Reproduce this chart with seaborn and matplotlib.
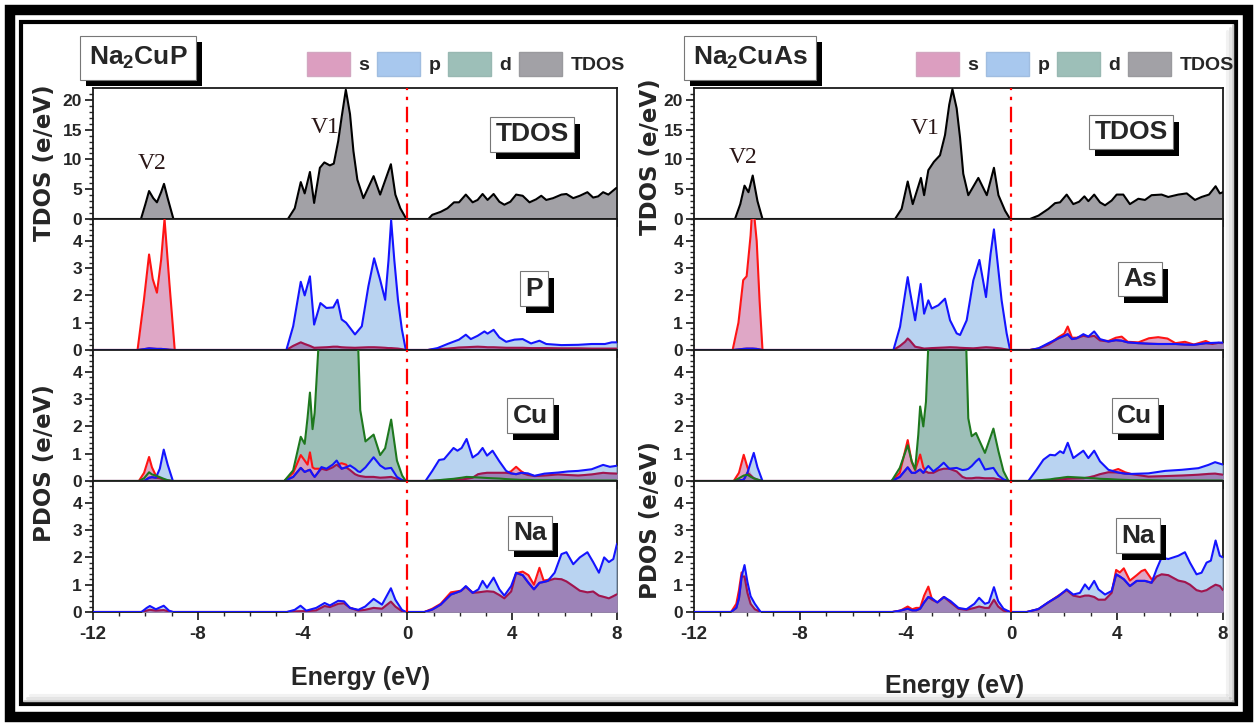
import numpy as np
import pandas as pd
import matplotlib
matplotlib.use('agg')
import seaborn as sns
import matplotlib.pyplot as plt
from matplotlib.patches import Patch, Rectangle
from matplotlib.lines import Line2D

# ---------------- data (energy in eV, DOS in states/eV) ----------------
# Na2CuP total DOS: (E, TDOS)
CUP_TDOS = [(-12, 0), (-10.17, 0), (-10.0, 2.5), (-9.86, 4.7), (-9.7, 3.5), (-9.56, 2.8),
            (-9.4, 4.5), (-9.29, 5.9), (-9.15, 3.5), (-8.93, 0), (-4.56, 0), (-4.3, 1.8),
            (-4.07, 6.2), (-3.92, 4.3), (-3.72, 7.9), (-3.56, 2.7), (-3.34, 8.6), (-3.17, 9.5),
            (-2.96, 9.0), (-2.81, 9.3), (-2.64, 13.1), (-2.51, 17.1), (-2.35, 21.7), (-2.19, 17.6),
            (-2.06, 11.4), (-1.91, 6.6), (-1.68, 3.5), (-1.29, 7.2), (-1.04, 4.1), (-0.63, 9.2),
            (-0.46, 4.1), (-0.27, 1.8), (-0.04, 0), (0.8, 0), (0.95, 0.7), (1.27, 1.2), (1.53, 1.8),
            (1.78, 2.8), (1.97, 2.8), (2.23, 4.1), (2.49, 2.8), (2.68, 3.2), (2.87, 4.2), (3.06, 3.2),
            (3.29, 4.2), (3.51, 2.9), (3.70, 2.4), (3.93, 2.9), (4.15, 4.1), (4.40, 3.9), (4.66, 2.8),
            (4.91, 3.3), (5.11, 3.9), (5.30, 3.2), (5.56, 3.5), (5.88, 4.1), (6.07, 4.2), (6.33, 3.5),
            (6.58, 3.9), (6.87, 4.5), (7.09, 3.6), (7.28, 3.8), (7.47, 4.5), (7.67, 4.1), (7.97, 5.2),
            (8.0, 5.2)]

# Na2CuP, P site: (E, s, p)
CUP_P = [(-12, 0, 0), (-10.3, 0, 0), (-10.06, 1.8, 0.03), (-9.86, 3.5, 0.06), (-9.72, 2.6, 0.05),
         (-9.56, 2.1, 0.04), (-9.4, 3.3, 0.04), (-9.27, 4.8, 0.03), (-9.08, 2.4, 0.01), (-8.88, 0, 0),
         (-4.62, 0, 0), (-4.36, 0.15, 0.87), (-4.07, 0.28, 2.5), (-3.92, 0.22, 2.0), (-3.72, 0.15, 2.7),
         (-3.56, 0.08, 0.93), (-3.32, 0.09, 1.72), (-3.09, 0.1, 1.54), (-2.83, 0.12, 1.56),
         (-2.67, 0.12, 1.84), (-2.51, 0.1, 1.12), (-2.34, 0.09, 1.0), (-2.0, 0.08, 0.57),
         (-1.74, 0.09, 0.87), (-1.49, 0.1, 2.33), (-1.27, 0.1, 3.36), (-1.04, 0.09, 2.57),
         (-0.85, 0.08, 1.84), (-0.72, 0.07, 3.3), (-0.62, 0.07, 4.75), (-0.50, 0.06, 3.3),
         (-0.36, 0.05, 1.84), (-0.21, 0.03, 0.75), (-0.06, 0, 0), (0.78, 0, 0), (1.15, 0.03, 0.07),
         (1.53, 0.05, 0.22), (1.97, 0.09, 0.38), (2.23, 0.1, 0.56), (2.42, 0.11, 0.4), (2.68, 0.12, 0.52),
         (2.94, 0.11, 0.68), (3.06, 0.1, 0.6), (3.29, 0.1, 0.74), (3.51, 0.09, 0.46), (3.77, 0.08, 0.3),
         (4.09, 0.08, 0.38), (4.40, 0.08, 0.4), (4.72, 0.07, 0.24), (5.04, 0.07, 0.34), (5.30, 0.07, 0.22),
         (5.88, 0.06, 0.18), (6.52, 0.06, 0.19), (7.03, 0.05, 0.22), (7.54, 0.05, 0.22), (7.8, 0.05, 0.28),
         (8.0, 0.05, 0.28)]

# Na2CuP, Cu site: (E, s, p, d)
CUP_CU = [(-12, 0, 0, 0), (-10.25, 0, 0, 0), (-10.05, 0.3, 0.0, 0.1), (-9.86, 0.88, 0.12, 0.32),
          (-9.75, 0.5, 0.14, 0.24), (-9.6, 0.2, 0.12, 0.2), (-9.45, 0.1, 0.45, 0.14), (-9.3, 0.05, 1.15, 0.08),
          (-9.15, 0.02, 0.6, 0.03), (-8.95, 0, 0, 0), (-4.7, 0, 0, 0), (-4.36, 0.3, 0.15, 0.39),
          (-4.07, 0.95, 0.48, 1.62), (-3.92, 0.75, 0.33, 1.36), (-3.81, 0.6, 0.38, 2.33),
          (-3.72, 1.05, 0.41, 3.24), (-3.62, 0.5, 0.25, 1.9), (-3.54, 0.45, 0.15, 2.5),
          (-3.42, 0.45, 0.3, 4.5), (-3.28, 0.45, 0.51, 7.0), (-3.09, 0.4, 0.45, 9.0), (-2.85, 0.5, 0.6, 10.5),
          (-2.70, 0.6, 0.75, 11.5), (-2.51, 0.65, 0.45, 12.5), (-2.34, 0.6, 0.5, 13.0),
          (-2.19, 0.4, 0.57, 11.0), (-2.0, 0.25, 0.45, 8.0), (-1.88, 0.2, 0.35, 5.0), (-1.80, 0.18, 0.33, 2.6),
          (-1.6, 0.15, 0.5, 1.45), (-1.29, 0.15, 0.87, 1.7), (-1.04, 0.12, 0.57, 0.95),
          (-0.85, 0.13, 0.45, 1.2), (-0.62, 0.15, 0.48, 2.25), (-0.40, 0.08, 0.15, 0.75),
          (-0.2, 0.03, 0.03, 0.2), (-0.06, 0, 0, 0), (0.69, 0, 0, 0), (0.95, 0.01, 0.37, 0.01),
          (1.21, 0.02, 0.77, 0.03), (1.40, 0.03, 0.8, 0.05), (1.76, 0.05, 1.21, 0.08), (1.91, 0.05, 1.11, 0.1),
          (2.07, 0.06, 1.21, 0.12), (2.26, 0.08, 1.54, 0.15), (2.49, 0.12, 0.86, 0.14), (2.70, 0.25, 1.0, 0.13),
          (2.87, 0.28, 1.21, 0.12), (3.04, 0.3, 0.93, 0.11), (3.25, 0.3, 1.11, 0.1), (3.51, 0.3, 0.72, 0.09),
          (3.77, 0.3, 0.37, 0.07), (3.95, 0.35, 0.28, 0.06), (4.15, 0.52, 0.25, 0.05), (4.35, 0.35, 0.3, 0.04),
          (4.60, 0.22, 0.28, 0.04), (4.85, 0.18, 0.19, 0.03), (5.23, 0.2, 0.27, 0.03), (5.75, 0.24, 0.31, 0.03),
          (6.13, 0.22, 0.35, 0.02), (6.52, 0.2, 0.37, 0.02), (7.03, 0.24, 0.43, 0.02), (7.47, 0.3, 0.59, 0.02),
          (7.73, 0.28, 0.52, 0.02), (8.0, 0.27, 0.56, 0.02)]

# Na2CuP, Na site: (E, s, p)
CUP_NA = [(-12, 0, 0), (-10.15, 0, 0), (-9.95, 0.05, 0.15), (-9.83, 0.08, 0.22), (-9.6, 0.05, 0.1),
          (-9.3, 0.07, 0.23), (-9.1, 0.02, 0.05), (-8.95, 0, 0), (-4.6, 0, 0), (-4.3, 0.02, 0.08),
          (-4.08, 0.03, 0.23), (-3.86, 0.03, 0.05), (-3.48, 0.06, 0.15), (-3.16, 0.22, 0.33),
          (-2.96, 0.18, 0.24), (-2.64, 0.3, 0.41), (-2.42, 0.32, 0.39), (-2.19, 0.15, 0.15),
          (-1.87, 0.05, 0.08), (-1.61, 0.08, 0.2), (-1.29, 0.15, 0.48), (-0.97, 0.12, 0.27),
          (-0.63, 0.38, 0.87), (-0.46, 0.2, 0.45), (-0.21, 0.03, 0.08), (-0.06, 0, 0), (0.65, 0, 0),
          (0.95, 0.12, 0.09), (1.27, 0.3, 0.27), (1.66, 0.72, 0.64), (2.04, 0.78, 0.77), (2.23, 0.92, 0.95),
          (2.49, 0.72, 0.7), (2.71, 0.72, 0.83), (2.87, 0.74, 1.14), (3.04, 0.76, 0.89), (3.29, 0.74, 1.26),
          (3.51, 0.62, 0.83), (3.70, 0.5, 0.6), (3.96, 0.75, 0.95), (4.15, 1.42, 1.44), (4.40, 1.48, 1.35),
          (4.62, 1.35, 1.07), (4.83, 1.0, 0.83), (5.04, 1.62, 1.07), (5.2, 1.15, 1.1), (5.36, 1.18, 1.14),
          (5.62, 1.22, 1.44), (5.88, 1.2, 2.12), (6.07, 1.12, 2.19), (6.33, 0.95, 1.75), (6.58, 0.78, 2.0),
          (6.87, 0.72, 2.19), (7.09, 0.75, 1.83), (7.31, 0.6, 1.44), (7.51, 0.55, 2.0), (7.69, 0.5, 1.83),
          (7.86, 0.58, 1.94), (8.0, 0.65, 2.5)]

# Na2CuAs total DOS: (E, TDOS)
CUAS_TDOS = [(-12, 0), (-10.45, 0), (-10.25, 2.5), (-10.09, 5.6), (-9.94, 4.5), (-9.78, 7.3), (-9.6, 3.0),
             (-9.41, 0), (-4.40, 0), (-4.15, 1.7), (-3.92, 6.3), (-3.73, 2.5), (-3.42, 6.9), (-3.30, 4.0),
             (-3.14, 8.2), (-2.93, 9.6), (-2.70, 10.7), (-2.51, 14.1), (-2.35, 19.2), (-2.23, 21.8),
             (-2.07, 18.6), (-1.94, 13.6), (-1.82, 7.6), (-1.63, 4.0), (-1.25, 6.9), (-0.93, 4.0),
             (-0.66, 8.6), (-0.49, 4.0), (-0.24, 1.4), (-0.05, 0), (0.70, 0), (1.02, 0.56), (1.40, 1.7),
             (1.65, 2.66), (1.84, 2.8), (2.09, 4.1), (2.34, 2.5), (2.56, 2.9), (2.76, 3.8), (2.91, 3.0),
             (3.13, 4.1), (3.35, 2.8), (3.54, 2.3), (3.79, 3.1), (3.98, 4.1), (4.23, 4.1), (4.48, 2.5),
             (4.80, 3.4), (5.05, 3.2), (5.30, 4.0), (5.68, 4.1), (5.93, 3.7), (6.31, 4.1), (6.63, 4.3),
             (6.94, 3.2), (7.19, 3.7), (7.47, 4.1), (7.72, 5.5), (7.88, 4.3), (8.0, 4.5)]

# Na2CuAs, As site: (E, s, p)
CUAS_AS = [(-12, 0, 0), (-10.54, 0, 0), (-10.32, 1.0, 0.02), (-10.14, 2.56, 0.04), (-10.01, 2.7, 0.05),
           (-9.86, 4.2, 0.05), (-9.78, 5.5, 0.05), (-9.63, 4.0, 0.04), (-9.52, 1.8, 0.02), (-9.41, 0, 0),
           (-4.46, 0, 0), (-4.21, 0.15, 0.85), (-4.02, 0.3, 2.06), (-3.92, 0.42, 2.67), (-3.84, 0.35, 2.18),
           (-3.64, 0.12, 1.09), (-3.43, 0.08, 2.42), (-3.30, 0.05, 1.33), (-3.14, 0.06, 1.82),
           (-3.01, 0.07, 1.52), (-2.76, 0.08, 1.64), (-2.51, 0.09, 1.88), (-2.32, 0.1, 1.09),
           (-2.07, 0.09, 0.61), (-1.94, 0.08, 0.55), (-1.69, 0.07, 1.09), (-1.44, 0.06, 2.55),
           (-1.21, 0.08, 3.3), (-0.96, 0.1, 1.94), (-0.79, 0.09, 3.5), (-0.66, 0.08, 4.42),
           (-0.53, 0.07, 3.27), (-0.37, 0.05, 1.82), (-0.18, 0.02, 0.61), (-0.05, 0, 0), (0.70, 0, 0),
           (1.02, 0.05, 0.06), (1.40, 0.2, 0.25), (1.78, 0.47, 0.43), (2.0, 0.6, 0.52), (2.13, 0.86, 0.58),
           (2.29, 0.45, 0.4), (2.47, 0.45, 0.43), (2.72, 0.52, 0.58), (2.91, 0.48, 0.49), (3.13, 0.52, 0.68),
           (3.35, 0.35, 0.4), (3.67, 0.33, 0.31), (3.95, 0.45, 0.36), (4.17, 0.49, 0.34), (4.40, 0.3, 0.28),
           (4.80, 0.28, 0.25), (5.20, 0.43, 0.23), (5.55, 0.47, 0.22), (5.90, 0.42, 0.22), (6.20, 0.25, 0.22),
           (6.56, 0.3, 0.2), (6.90, 0.2, 0.19), (7.35, 0.33, 0.25), (7.60, 0.22, 0.26), (7.82, 0.26, 0.27),
           (8.0, 0.25, 0.27)]

# Na2CuAs, Cu site: (E, s, p, d)
CUAS_CU = [(-12, 0, 0, 0), (-10.5, 0, 0, 0), (-10.3, 0.3, 0.02, 0.1), (-10.12, 0.96, 0.05, 0.2),
           (-9.98, 0.5, 0.3, 0.23), (-9.85, 0.2, 0.7, 0.15), (-9.74, 0.1, 1.03, 0.1), (-9.6, 0.05, 0.5, 0.05),
           (-9.41, 0, 0, 0), (-4.53, 0, 0, 0), (-4.22, 0.3, 0.15, 0.48), (-3.92, 1.5, 0.5, 1.31),
           (-3.77, 0.7, 0.3, 0.73), (-3.64, 0.4, 0.3, 0.42), (-3.52, 0.75, 0.38, 1.7), (-3.45, 0.97, 0.42, 2.73),
           (-3.33, 0.5, 0.3, 2.0), (-3.23, 0.35, 0.45, 2.9), (-3.14, 0.3, 0.55, 5.0), (-2.95, 0.3, 0.35, 7.0),
           (-2.75, 0.4, 0.5, 9.0), (-2.56, 0.45, 0.67, 11.0), (-2.35, 0.45, 0.45, 12.5), (-2.07, 0.35, 0.48, 11.0),
           (-1.85, 0.15, 0.4, 7.5), (-1.71, 0.1, 0.42, 5.0), (-1.63, 0.1, 0.45, 2.3), (-1.50, 0.1, 0.55, 1.64),
           (-1.34, 0.12, 0.72, 1.76), (-1.22, 0.12, 0.82, 1.5), (-1.0, 0.1, 0.42, 1.03), (-0.68, 0.1, 0.48, 1.92),
           (-0.49, 0.06, 0.2, 1.09), (-0.30, 0.03, 0.06, 0.36), (-0.11, 0, 0, 0), (0.64, 0, 0, 0),
           (0.95, 0.01, 0.41, 0.02), (1.21, 0.02, 0.78, 0.04), (1.46, 0.03, 0.96, 0.06), (1.65, 0.04, 0.94, 0.09),
           (1.84, 0.06, 1.09, 0.11), (1.97, 0.07, 1.02, 0.13), (2.13, 0.08, 1.4, 0.15), (2.34, 0.09, 0.84, 0.14),
           (2.72, 0.1, 1.11, 0.12), (2.91, 0.13, 0.84, 0.11), (3.13, 0.18, 1.11, 0.1), (3.35, 0.25, 0.72, 0.08),
           (3.67, 0.32, 0.41, 0.07), (4.04, 0.44, 0.31, 0.05), (4.30, 0.32, 0.27, 0.04), (4.55, 0.25, 0.26, 0.03),
           (5.18, 0.16, 0.28, 0.03), (5.81, 0.18, 0.37, 0.02), (6.44, 0.2, 0.41, 0.02), (7.07, 0.23, 0.47, 0.02),
           (7.45, 0.26, 0.59, 0.02), (7.70, 0.27, 0.69, 0.02), (8.0, 0.23, 0.6, 0.02)]

# Na2CuAs, Na site: (E, s, p)
CUAS_NA = [(-12, 0, 0), (-10.6, 0, 0), (-10.4, 0.3, 0.15), (-10.3, 0.8, 0.5), (-10.2, 1.45, 1.3),
           (-10.09, 1.3, 1.72), (-9.98, 0.7, 1.1), (-9.86, 0.3, 0.58), (-9.7, 0.1, 0.3), (-9.48, 0, 0),
           (-4.5, 0, 0), (-4.2, 0.05, 0.05), (-3.92, 0.2, 0.12), (-3.75, 0.1, 0.06), (-3.6, 0.15, 0.06),
           (-3.45, 0.15, 0.12), (-3.3, 0.6, 0.35), (-3.14, 0.93, 0.55), (-3.0, 0.45, 0.5), (-2.8, 0.35, 0.35),
           (-2.55, 0.55, 0.55), (-2.3, 0.35, 0.4), (-2.0, 0.12, 0.15), (-1.7, 0.08, 0.1), (-1.4, 0.15, 0.3),
           (-1.22, 0.2, 0.52), (-1.0, 0.15, 0.3), (-0.85, 0.15, 0.35), (-0.66, 0.45, 0.91), (-0.5, 0.2, 0.4),
           (-0.3, 0.05, 0.12), (-0.05, 0, 0), (0.58, 0, 0), (1.02, 0.1, 0.11), (1.40, 0.35, 0.36),
           (1.78, 0.6, 0.58), (2.09, 0.8, 0.83), (2.34, 0.6, 0.64), (2.59, 0.55, 0.7), (2.78, 0.6, 1.01),
           (2.93, 0.6, 0.83), (3.13, 0.55, 1.14), (3.29, 0.45, 0.83), (3.54, 0.45, 0.64), (3.79, 0.7, 0.77),
           (3.96, 1.54, 1.38), (4.1, 1.45, 1.3), (4.25, 1.6, 1.2), (4.48, 1.15, 0.95), (4.74, 1.35, 1.14),
           (4.92, 1.5, 1.14), (5.05, 1.55, 1.14), (5.30, 1.2, 1.07), (5.49, 1.3, 1.57), (5.68, 1.38, 2.0),
           (5.93, 1.35, 1.94), (6.31, 1.15, 2.06), (6.56, 1.1, 2.19), (6.75, 1.0, 1.81), (7.00, 0.8, 1.38),
           (7.19, 0.75, 1.44), (7.38, 0.8, 1.81), (7.54, 0.9, 1.88), (7.72, 1.0, 2.62), (7.88, 0.95, 2.06),
           (8.0, 0.8, 2.0)]

COMPOUNDS = ["Na$_2$CuP", "Na$_2$CuAs"]
SITES = [["TDOS", "P", "Cu", "Na"], ["TDOS", "As", "Cu", "Na"]]
LEGEND = ['s', 'p', 'd', 'TDOS']

# ---------------- style ----------------
S_LINE, S_FILL = '#ff1414', '#dc9ec0'
P_LINE, P_FILL = '#1414ff', '#a8c8ee'
D_LINE, D_FILL = '#1e781e', '#9dbfb8'
T_FILL = '#a2a1a6'
MIX_FILL, MIX_LINE = '#9a78b0', '#a0144e'

sns.set_style('ticks')
plt.rcParams['font.family'] = ['DejaVu Sans Condensed', 'Liberation Sans', 'DejaVu Sans']
plt.rcParams['font.weight'] = 'bold'
plt.rcParams['axes.unicode_minus'] = False
plt.rcParams['mathtext.fontset'] = 'custom'
plt.rcParams['mathtext.rm'] = 'Liberation Sans:bold'
plt.rcParams['mathtext.it'] = 'Liberation Sans:bold'
plt.rcParams['mathtext.bf'] = 'Liberation Sans:bold'


def line(ax, df, col, color, z):
    sns.lineplot(data=df, x='E', y=col, ax=ax, color=color, lw=1.5,
                 estimator=None, sort=False, zorder=z)


def draw_tdos(ax, rows):
    df = pd.DataFrame(rows, columns=['E', 'v'])
    ax.fill_between(df.E, 0, df.v, color=T_FILL, lw=0, zorder=2)
    line(ax, df, 'v', 'black', 3)


def draw_pdos(ax, rows):
    cols = ['E', 's', 'p', 'd'] if len(rows[0]) == 4 else ['E', 's', 'p']
    df = pd.DataFrame(rows, columns=cols)
    if 'd' in df:
        ax.fill_between(df.E, 0, df.d, color=D_FILL, lw=0, zorder=2)
    ax.fill_between(df.E, 0, df.s, color=S_FILL, alpha=0.9, lw=0, zorder=3)
    line(ax, df, 's', S_LINE, 3.5)
    ax.fill_between(df.E, 0, df.p, color=P_FILL, alpha=0.8, lw=0, zorder=4)
    # s lying under p shows as purple
    df['mix'] = np.minimum(df.s, df.p)
    ax.fill_between(df.E, 0, df.mix, color=MIX_FILL, alpha=0.85, lw=0, zorder=5)
    line(ax, df, 'mix', MIX_LINE, 5.5)
    line(ax, df, 'p', P_LINE, 6)
    if 'd' in df:
        line(ax, df, 'd', D_LINE, 6.5)


def style_axis(ax, top, bottom):
    ax.set_xlim(-12, 8)
    if top:
        ax.set_ylim(0, 22)
        ax.set_yticks(np.arange(0, 21, 5))
        ax.set_yticks(np.arange(0, 22, 1), minor=True)
    else:
        ax.set_ylim(0, 4.8)
        ax.set_yticks(np.arange(0, 5, 1))
        ax.set_yticks(np.arange(0, 4.81, 0.2), minor=True)
    ax.set_xticks(np.arange(-12, 9, 4))
    ax.set_xticks(np.arange(-12, 9, 1), minor=True)
    ax.tick_params(which='major', direction='out', length=6, width=1.3, labelsize=12.5, pad=2)
    ax.tick_params(which='minor', direction='out', length=3, width=1)
    ax.tick_params(axis='x', labelsize=13.5, labelbottom=bottom, pad=4)
    ax.set_xlabel('')
    ax.set_ylabel('')
    for sp in ax.spines.values():
        sp.set_linewidth(1.3)
        sp.set_color('#1a1a1a')
    ax.axvline(0, color='red', lw=1.6, ls=(0, (7, 3, 1.5, 3)), zorder=8)


FIG = plt.figure(figsize=(12.57, 7.24), dpi=100)
W, H = 1257.0, 724.0
boxes = []  # (text, dx, dy) that get a black drop shadow


def boxed(x, y, s, size, transform, dx=6, dy=-7, pad=0.2):
    t = FIG.text(x, y, s, ha='center', va='center', fontsize=size, zorder=11, transform=transform,
                 bbox=dict(boxstyle=f'square,pad={pad}', fc='white', ec='#777777', lw=0.8))
    boxes.append((t, dx, dy))


panels = [(93, 617), (694, 1223)]
data = [[CUP_TDOS, CUP_P, CUP_CU, CUP_NA], [CUAS_TDOS, CUAS_AS, CUAS_CU, CUAS_NA]]
label_pos = [[(4.76, 14.2), (4.83, 2.25), (4.68, 2.4), (4.68, 2.9)],
             [(4.52, 14.6), (4.86, 2.6), (4.67, 2.4), (4.79, 2.8)]]
v_pos = [[(-9.75, 9.3), (-3.15, 15.4)], [(-10.15, 10.3), (-3.27, 15.2)]]

top_px, bot_px = 88, 612
ph = (bot_px - top_px) / 4.0
for c in range(2):
    x0, x1 = panels[c]
    for r in range(4):
        y_top = top_px + r * ph
        ax = FIG.add_axes([x0 / W, 1 - (y_top + ph) / H, (x1 - x0) / W, ph / H])
        if r == 0:
            draw_tdos(ax, data[c][r])
        else:
            draw_pdos(ax, data[c][r])
        style_axis(ax, r == 0, r == 3)
        lx, ly = label_pos[c][r]
        boxed(lx, ly, SITES[c][r], 19, ax.transData)
        if r == 0:
            for name, (vx, vy) in zip(['V2', 'V1'], v_pos[c]):
                ax.text(vx, vy, name, ha='center', va='center', fontsize=17,
                        family='Liberation Serif', weight='normal', color='#2a1616', zorder=9)

# compound titles
boxed(138 / W, 1 - 58 / H, COMPOUNDS[0], 19, FIG.transFigure, dx=6, dy=-6, pad=0.32)
boxed(750 / W, 1 - 58 / H, COMPOUNDS[1], 19, FIG.transFigure, dx=6, dy=-6, pad=0.32)

# legends
handles = [Patch(fc=S_FILL, ec='#d2a6c0'), Patch(fc=P_FILL, ec='#a0bde0'),
           Patch(fc=D_FILL, ec='#98b8b2'), Patch(fc=T_FILL, ec='#9a9a9e')]
for cx in (466, 1075):
    FIG.legend(handles, LEGEND, loc='center', ncol=4,
               bbox_to_anchor=(cx / W, 1 - 64 / H), frameon=False, fontsize=14,
               handlelength=2.2, handleheight=1.55, handletextpad=0.45, columnspacing=0.4)

# axis titles
ylab = dict(rotation=90, ha='center', va='center', fontsize=16.5, family='DejaVu Sans', weight='bold')
FIG.text(45 / W, 1 - 163 / H, 'TDOS (e/eV)', **ylab)
FIG.text(45 / W, 1 - 463 / H, 'PDOS (e/eV)', **ylab)
FIG.text(650 / W, 1 - 157 / H, 'TDOS (e/eV)', **ylab)
FIG.text(650 / W, 1 - 520 / H, 'PDOS (e/eV)', **ylab)
FIG.text(361 / W, 1 - 678 / H, 'Energy (eV)', ha='center', va='center', fontsize=18)
FIG.text(955 / W, 1 - 686 / H, 'Energy (eV)', ha='center', va='center', fontsize=18)

# drop shadows behind the boxed labels
FIG.canvas.draw()
rend = FIG.canvas.get_renderer()
for t, dx, dy in boxes:
    bb = t.get_bbox_patch().get_window_extent(rend)
    FIG.patches.append(Rectangle(((bb.x0 + dx) / W, (bb.y0 + dy) / H), bb.width / W, bb.height / H,
                                 transform=FIG.transFigure, fc='black', ec='none', zorder=5))


# double black frame with a soft inner shadow
def frame_rect(l, t, r, b, lw):
    FIG.patches.append(Rectangle((l / W, 1 - b / H), (r - l) / W, (b - t) / H, transform=FIG.transFigure,
                                 fill=False, ec='black', lw=lw, zorder=0))


frame_rect(10, 10, 1248, 717, 7.5)
frame_rect(21, 22, 1236, 704, 3.0)
for k, a in enumerate([0.35, 0.2, 0.1]):
    off = 3 + 3 * k
    FIG.lines.append(Line2D([(1236 - off) / W] * 2, [1 - (22 + off) / H, 1 - (704 - off) / H],
                            transform=FIG.transFigure, color='gray', lw=2.2, alpha=a))
    FIG.lines.append(Line2D([(21 + off) / W, (1236 - off) / W], [1 - (704 - off) / H] * 2,
                            transform=FIG.transFigure, color='gray', lw=2.2, alpha=a))

FIG.savefig('out.png', dpi=100)
